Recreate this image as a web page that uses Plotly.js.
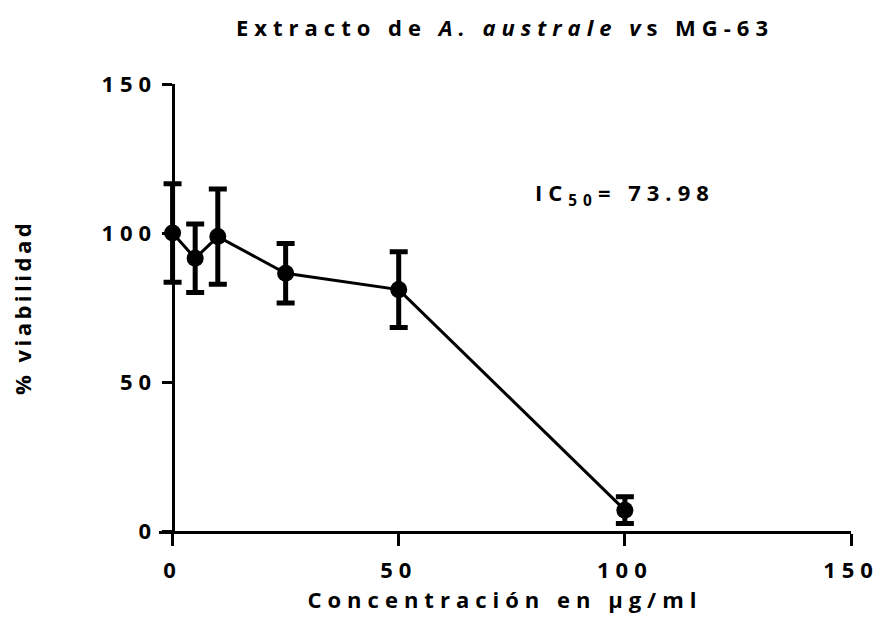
<!DOCTYPE html>
<html>
<head>
<meta charset="utf-8">
<script src="https://cdn.plot.ly/plotly-3.0.1.min.js"></script>
<style>
html,body{margin:0;padding:0;background:#fff;}
#chart{width:881px;height:630px;}
#chart svg text{letter-spacing:6px;}
#chart svg text.ytitle{letter-spacing:3.5px;}
</style>
</head>
<body>
<div id="chart"></div>
<script>
const concentration = [0, 5, 10, 25, 50, 100];
const viability = [100, 91.5, 98.8, 86.5, 81, 7];
const errorSD = [16.5, 11.5, 16, 10, 12.7, 4.5];
const tickValues = [0, 50, 100, 150];
const ic50Label = "IC<sub>50</sub>= 73.98";

const fontFam = "'Open Sans', 'DejaVu Sans', sans-serif";
const FS = 22;
const xMin = -3, xMax = 150;

const trace = {
  x: concentration,
  y: viability,
  type: 'scatter',
  mode: 'lines+markers',
  line: {color: '#000', width: 3},
  marker: {color: '#000', size: 17, symbol: 'circle'},
  error_y: {type: 'data', array: errorSD, visible: true, color: '#000', thickness: 5, width: 9},
  cliponaxis: false,
  showlegend: false,
  hoverinfo: 'none'
};

const font = {family: fontFam, size: FS, color: '#000', weight: 'bold'};

const layout = {
  width: 881, height: 630,
  margin: {l: 159.4, r: 30, t: 84, b: 99},
  paper_bgcolor: '#fff', plot_bgcolor: '#fff',
  font: font,
  title: {
    text: "Extracto de <i>A. australe</i> <i>v</i>s MG-63",
    font: font,
    x: 0.5, xref: 'paper', y: 1 - 28 / 630, yref: 'container', xanchor: 'center', yanchor: 'middle'
  },
  xaxis: {
    range: [xMin, xMax], tickvals: tickValues, ticktext: tickValues.map(String),
    showgrid: false, zeroline: false, showline: true, linecolor: '#000', linewidth: 3,
    ticks: 'outside', ticklen: 12, tickwidth: 3, tickcolor: '#000', ticklabelstandoff: 6,
    tickfont: font,
    title: {text: "Concentración en µg/ml", font: font, standoff: 0}
  },
  yaxis: {
    range: [0, 150], tickvals: tickValues, ticktext: tickValues.map(String),
    anchor: 'free', position: (0 - xMin) / (xMax - xMin),
    showgrid: false, zeroline: false, showline: true, linecolor: '#000', linewidth: 3,
    ticks: 'outside', ticklen: 10, tickwidth: 3, tickcolor: '#000',
    tickfont: font,
    title: {text: "% viabilidad", font: font, standoff: 80}
  },
  annotations: [{
    x: 100, y: 113, xref: 'x', yref: 'y', text: ic50Label, showarrow: false,
    font: font
  }]
};

Plotly.newPlot('chart', [trace], layout, {displayModeBar: false, staticPlot: true});
</script>
</body>
</html>
